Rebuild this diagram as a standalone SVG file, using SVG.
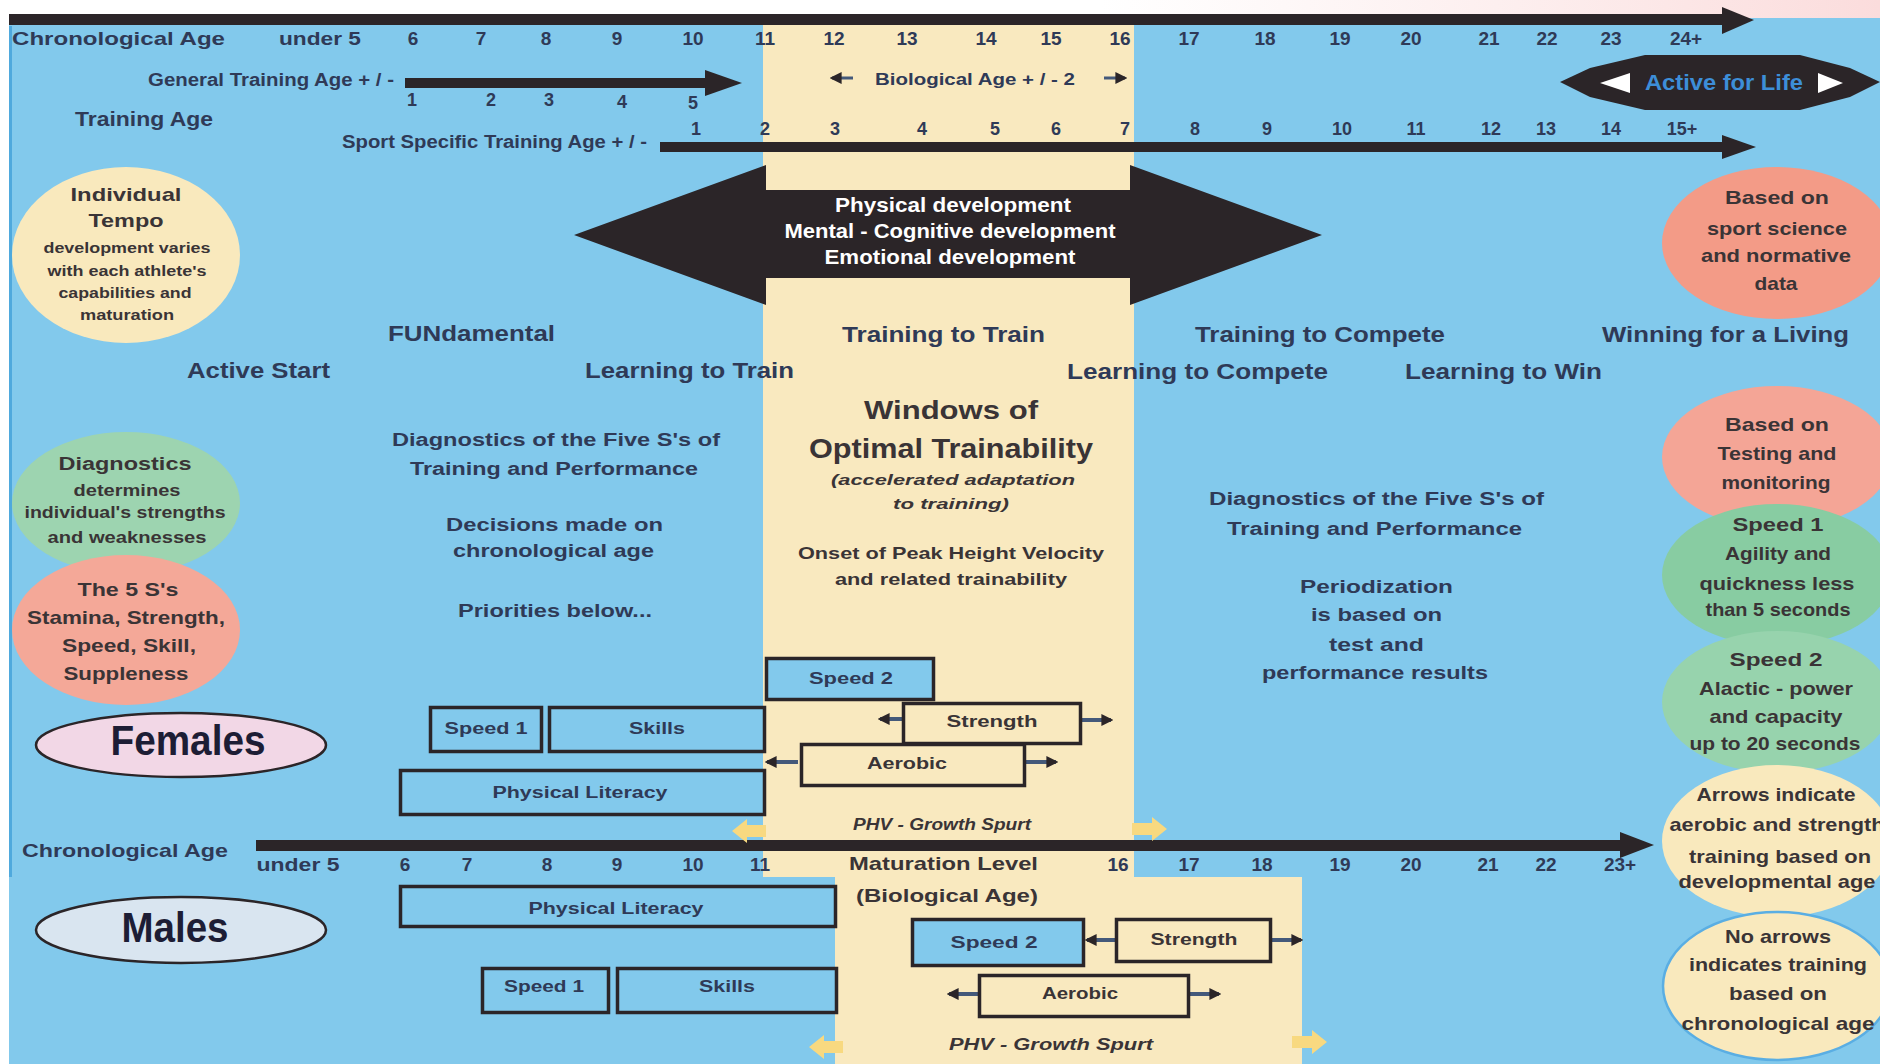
<svg xmlns="http://www.w3.org/2000/svg" width="1880" height="1064" viewBox="0 0 1880 1064">
<defs>
<style>
.t{font-family:"Liberation Sans",Arial,sans-serif;font-weight:bold;fill:#2f3a57}
.c{text-anchor:middle}
.w{fill:#ffffff}
.d{fill:#3a3436}
.i{font-style:italic}
.box{stroke:#2b2528;stroke-width:3.5}
.bl{fill:#82c9ec}
.ye{fill:#f9e9bf}
.sa{stroke:#44597a;stroke-width:4;fill:none;marker-end:url(#ah)}
.ya{fill:#f8d980}
.dk{fill:#2b2528}
</style>
<marker id="ah" viewBox="0 0 10 10" refX="8" refY="5" markerWidth="12" markerHeight="12" markerUnits="userSpaceOnUse" orient="auto"><path d="M0,0 L10,5 L0,10 z" fill="#2b2528"/></marker>
<linearGradient id="pk" x1="0" y1="0" x2="1" y2="0"><stop offset="0" stop-color="#fbe3e3" stop-opacity="0"/><stop offset="1" stop-color="#fbdcdc"/></linearGradient>
</defs>
<rect x="0" y="0" width="1880" height="1064" fill="#ffffff"/>
<rect x="1100" y="0" width="780" height="18" fill="url(#pk)"/>
<rect x="9" y="18" width="1871" height="1046" class="bl"/>
<rect x="9" y="26" width="3" height="851" fill="#4fa9dd"/>
<rect x="763" y="25" width="371" height="852" class="ye"/>
<rect x="835" y="877" width="467" height="187" class="ye"/>

<g id="connectors">
<path d="M9,14 H1724 V25 H9 Z" class="dk"/>
<path d="M1722,7 L1754,20 L1722,34 Z" class="dk"/>
<path d="M405,78 H708 V88 H405 Z" class="dk"/>
<path d="M705,70 L742,83 L705,96 Z" class="dk"/>
<path d="M660,142 H1724 V152 H660 Z" class="dk"/>
<path d="M1722,135 L1756,147 L1722,159 Z" class="dk"/>
<path d="M256,840 H1622 V851 H256 Z" class="dk"/>
<path d="M1620,832 L1654,845 L1620,858 Z" class="dk"/>
<line x1="853" y1="78" x2="832" y2="78" class="sa" style="stroke-width:3"/>
<line x1="1104" y1="78" x2="1125" y2="78" class="sa" style="stroke-width:3"/>
<line x1="912" y1="719" x2="880" y2="719" class="sa"/>
<line x1="1082" y1="720" x2="1111" y2="720" class="sa"/>
<line x1="798" y1="762" x2="767" y2="762" class="sa"/>
<line x1="1026" y1="762" x2="1056" y2="762" class="sa"/>
<line x1="1116" y1="940" x2="1087" y2="940" class="sa"/>
<line x1="1272" y1="940" x2="1301" y2="940" class="sa"/>
<line x1="979" y1="994" x2="949" y2="994" class="sa"/>
<line x1="1190" y1="994" x2="1219" y2="994" class="sa"/>
<path d="M732,831 L747,819 L747,825 L766,825 L766,837 L747,837 L747,843 Z" class="ya"/>
<path d="M1167,829 L1152,817 L1152,823 L1132,823 L1132,835 L1152,835 L1152,841 Z" class="ya"/>
<path d="M809,1047 L824,1035 L824,1041 L843,1041 L843,1053 L824,1053 L824,1059 Z" class="ya"/>
<path d="M1327,1042 L1312,1030 L1312,1036 L1292,1036 L1292,1048 L1312,1048 L1312,1054 Z" class="ya"/>
</g>

<g id="axis-top">
<text class="t" x="12" y="45" font-size="19" textLength="213" lengthAdjust="spacingAndGlyphs">Chronological Age</text>
<g class="t c" font-size="19">
<text x="320" y="45" textLength="82" lengthAdjust="spacingAndGlyphs">under 5</text>
<text x="413" y="45">6</text><text x="481" y="45">7</text><text x="546" y="45">8</text><text x="617" y="45">9</text><text x="693" y="45">10</text><text x="765" y="45">11</text><text x="834" y="45">12</text><text x="907" y="45">13</text><text x="986" y="45">14</text><text x="1051" y="45">15</text><text x="1120" y="45">16</text><text x="1189" y="45">17</text><text x="1265" y="45">18</text><text x="1340" y="45">19</text><text x="1411" y="45">20</text><text x="1489" y="45">21</text><text x="1547" y="45">22</text><text x="1611" y="45">23</text><text x="1686" y="45">24+</text>
</g>
<text class="t" x="148" y="86" font-size="18" textLength="246" lengthAdjust="spacingAndGlyphs">General Training Age + / -</text>
<g class="t c" font-size="18">
<text x="412" y="106">1</text><text x="491" y="106">2</text><text x="549" y="106">3</text><text x="622" y="108">4</text><text x="693" y="109">5</text>
</g>
<text class="t" x="75" y="126" font-size="20" textLength="138" lengthAdjust="spacingAndGlyphs">Training Age</text>
<text class="t" x="875" y="85" font-size="17" textLength="200" lengthAdjust="spacingAndGlyphs">Biological Age + / - 2</text>
<text class="t" x="342" y="148" font-size="18" textLength="305" lengthAdjust="spacingAndGlyphs">Sport Specific Training Age + / -</text>
<g class="t c" font-size="18">
<text x="696" y="135">1</text><text x="765" y="135">2</text><text x="835" y="135">3</text><text x="922" y="135">4</text><text x="995" y="135">5</text><text x="1056" y="135">6</text><text x="1125" y="135">7</text><text x="1195" y="135">8</text><text x="1267" y="135">9</text><text x="1342" y="135">10</text><text x="1416" y="135">11</text><text x="1491" y="135">12</text><text x="1546" y="135">13</text><text x="1611" y="135">14</text><text x="1682" y="135">15+</text>
</g>
</g>

<g id="active-for-life">
<path d="M1560,82 L1590,68 L1645,55 L1800,55 L1850,68 L1880,82 L1850,97 L1800,110 L1645,110 L1590,97 Z" class="dk"/>
<path d="M1600,83 L1630,73 L1630,93 Z" fill="#ffffff"/>
<path d="M1843,83 L1818,73 L1818,93 Z" fill="#ffffff"/>
<text class="t c" x="1724" y="90" font-size="22" fill="#3d8ed8" style="fill:#3d8ed8" textLength="158" lengthAdjust="spacingAndGlyphs">Active for Life</text>
</g>

<g id="development-arrow">
<path d="M574,235 L766,165 L766,190 L1130,190 L1130,165 L1322,235 L1130,305 L1130,278 L766,278 L766,305 Z" class="dk"/>
<g class="t c w" font-size="21">
<text x="953" y="212" textLength="236" lengthAdjust="spacingAndGlyphs">Physical development</text>
<text x="950" y="238" textLength="331" lengthAdjust="spacingAndGlyphs">Mental - Cognitive development</text>
<text x="950" y="264" textLength="251" lengthAdjust="spacingAndGlyphs">Emotional development</text>
</g>
</g>

<g id="stages" class="t" font-size="22">
<text x="388" y="341" textLength="167" lengthAdjust="spacingAndGlyphs">FUNdamental</text>
<text x="842" y="342" textLength="203" lengthAdjust="spacingAndGlyphs">Training to Train</text>
<text x="1195" y="342" textLength="250" lengthAdjust="spacingAndGlyphs">Training to Compete</text>
<text x="1602" y="342" textLength="247" lengthAdjust="spacingAndGlyphs">Winning for a Living</text>
<text x="187" y="378" textLength="143" lengthAdjust="spacingAndGlyphs">Active Start</text>
<text x="585" y="378" textLength="209" lengthAdjust="spacingAndGlyphs">Learning to Train</text>
<text x="1067" y="379" textLength="261" lengthAdjust="spacingAndGlyphs">Learning to Compete</text>
<text x="1405" y="379" textLength="197" lengthAdjust="spacingAndGlyphs">Learning to Win</text>
</g>

<g id="notes-left" class="t" font-size="18">
<text x="392" y="446" textLength="328" lengthAdjust="spacingAndGlyphs">Diagnostics of the Five S's of</text>
<text x="410" y="475" textLength="288" lengthAdjust="spacingAndGlyphs">Training and Performance</text>
<text x="446" y="531" textLength="217" lengthAdjust="spacingAndGlyphs">Decisions made on</text>
<text x="453" y="557" textLength="201" lengthAdjust="spacingAndGlyphs">chronological age</text>
<text x="458" y="617" textLength="194" lengthAdjust="spacingAndGlyphs">Priorities below...</text>
</g>

<g id="windows" class="t d">
<text x="864" y="419" font-size="26" textLength="174" lengthAdjust="spacingAndGlyphs">Windows of</text>
<text x="809" y="458" font-size="27" textLength="284" lengthAdjust="spacingAndGlyphs">Optimal Trainability</text>
<text class="i" x="831" y="485" font-size="15" textLength="244" lengthAdjust="spacingAndGlyphs">(accelerated adaptation</text>
<text class="i" x="893" y="509" font-size="15" textLength="116" lengthAdjust="spacingAndGlyphs">to training)</text>
<text x="798" y="559" font-size="17" textLength="306" lengthAdjust="spacingAndGlyphs">Onset of Peak Height Velocity</text>
<text x="835" y="585" font-size="17" textLength="232" lengthAdjust="spacingAndGlyphs">and related trainability</text>
</g>

<g id="notes-right" class="t" font-size="18">
<text x="1209" y="505" textLength="335" lengthAdjust="spacingAndGlyphs">Diagnostics of the Five S's of</text>
<text x="1227" y="535" textLength="295" lengthAdjust="spacingAndGlyphs">Training and Performance</text>
<text x="1300" y="593" textLength="153" lengthAdjust="spacingAndGlyphs">Periodization</text>
<text x="1311" y="621" textLength="131" lengthAdjust="spacingAndGlyphs">is based on</text>
<text x="1329" y="651" textLength="95" lengthAdjust="spacingAndGlyphs">test and</text>
<text x="1262" y="679" textLength="226" lengthAdjust="spacingAndGlyphs">performance results</text>
</g>

<g id="circle-tempo">
<ellipse cx="126" cy="255" rx="114" ry="88" fill="#f9e9bd"/>
<g class="t c d">
<text x="126" y="201" font-size="19" textLength="111" lengthAdjust="spacingAndGlyphs">Individual</text>
<text x="126" y="227" font-size="19" textLength="75" lengthAdjust="spacingAndGlyphs">Tempo</text>
<text x="127" y="253" font-size="14" textLength="167" lengthAdjust="spacingAndGlyphs">development varies</text>
<text x="127" y="276" font-size="14" textLength="159" lengthAdjust="spacingAndGlyphs">with each athlete's</text>
<text x="125" y="298" font-size="14" textLength="133" lengthAdjust="spacingAndGlyphs">capabilities and</text>
<text x="127" y="320" font-size="14" textLength="94" lengthAdjust="spacingAndGlyphs">maturation</text>
</g>
</g>
<g id="circle-diagnostics">
<ellipse cx="126" cy="503" rx="114" ry="71" fill="#9dd4b0"/>
<g class="t c d">
<text x="125" y="470" font-size="18" textLength="133" lengthAdjust="spacingAndGlyphs">Diagnostics</text>
<text x="127" y="496" font-size="16" textLength="107" lengthAdjust="spacingAndGlyphs">determines</text>
<text x="125" y="518" font-size="16" textLength="201" lengthAdjust="spacingAndGlyphs">individual's strengths</text>
<text x="127" y="543" font-size="16" textLength="159" lengthAdjust="spacingAndGlyphs">and weaknesses</text>
</g>
</g>
<g id="circle-5s">
<ellipse cx="126" cy="630" rx="114" ry="75" fill="#f4a898"/>
<g class="t c d">
<text x="128" y="596" font-size="19" textLength="101" lengthAdjust="spacingAndGlyphs">The 5 S's</text>
<text x="126" y="624" font-size="19" textLength="198" lengthAdjust="spacingAndGlyphs">Stamina, Strength,</text>
<text x="129" y="652" font-size="19" textLength="134" lengthAdjust="spacingAndGlyphs">Speed, Skill,</text>
<text x="126" y="680" font-size="19" textLength="125" lengthAdjust="spacingAndGlyphs">Suppleness</text>
</g>
</g>

<g id="females">
<ellipse cx="181" cy="745" rx="145" ry="32" fill="#f2d7e6" stroke="#2b2528" stroke-width="2.5"/>
<text class="t c" x="188" y="755" font-size="42" style="fill:#1d1d35" textLength="155" lengthAdjust="spacingAndGlyphs">Females</text>
</g>
<g id="males">
<ellipse cx="181" cy="930" rx="145" ry="33" fill="#d9e5f0" stroke="#2b2528" stroke-width="2.5"/>
<text class="t c" x="175" y="942" font-size="42" style="fill:#1d1d35" textLength="107" lengthAdjust="spacingAndGlyphs">Males</text>
</g>

<g id="circle-science">
<ellipse cx="1777" cy="243" rx="115" ry="76" fill="#f39b87"/>
<g class="t c d" font-size="19">
<text x="1777" y="204" textLength="104" lengthAdjust="spacingAndGlyphs">Based on</text>
<text x="1777" y="235" textLength="140" lengthAdjust="spacingAndGlyphs">sport science</text>
<text x="1776" y="262" textLength="150" lengthAdjust="spacingAndGlyphs">and normative</text>
<text x="1776" y="290" textLength="43" lengthAdjust="spacingAndGlyphs">data</text>
</g>
</g>
<g id="circle-testing">
<ellipse cx="1777" cy="457" rx="115" ry="71" fill="#f4a596"/>
<g class="t c d" font-size="19">
<text x="1777" y="431" textLength="104" lengthAdjust="spacingAndGlyphs">Based on</text>
<text x="1777" y="460" textLength="119" lengthAdjust="spacingAndGlyphs">Testing and</text>
<text x="1776" y="489" textLength="109" lengthAdjust="spacingAndGlyphs">monitoring</text>
</g>
</g>
<g id="circle-speed1">
<ellipse cx="1777" cy="575" rx="115" ry="71" fill="#88cca2"/>
<g class="t c d" font-size="19">
<text x="1778" y="531" textLength="91" lengthAdjust="spacingAndGlyphs">Speed 1</text>
<text x="1778" y="560" textLength="106" lengthAdjust="spacingAndGlyphs">Agility and</text>
<text x="1777" y="590" textLength="155" lengthAdjust="spacingAndGlyphs">quickness less</text>
<text x="1778" y="616" textLength="145" lengthAdjust="spacingAndGlyphs">than 5 seconds</text>
</g>
</g>
<g id="circle-speed2">
<ellipse cx="1777" cy="702" rx="115" ry="71" fill="#97d3ad"/>
<g class="t c d" font-size="19">
<text x="1776" y="666" textLength="93" lengthAdjust="spacingAndGlyphs">Speed 2</text>
<text x="1776" y="695" textLength="154" lengthAdjust="spacingAndGlyphs">Alactic - power</text>
<text x="1776" y="723" textLength="133" lengthAdjust="spacingAndGlyphs">and capacity</text>
<text x="1775" y="750" textLength="171" lengthAdjust="spacingAndGlyphs">up to 20 seconds</text>
</g>
</g>
<g id="circle-arrows">
<ellipse cx="1777" cy="841" rx="115" ry="76" fill="#f9e9bd"/>
<g class="t c d" font-size="19">
<text x="1776" y="801" textLength="159" lengthAdjust="spacingAndGlyphs">Arrows indicate</text>
<text x="1777" y="831" textLength="215" lengthAdjust="spacingAndGlyphs">aerobic and strength</text>
<text x="1780" y="863" textLength="182" lengthAdjust="spacingAndGlyphs">training based on</text>
<text x="1777" y="888" textLength="197" lengthAdjust="spacingAndGlyphs">developmental age</text>
</g>
</g>
<g id="circle-noarrows">
<ellipse cx="1777" cy="986" rx="114" ry="74" fill="#f9e9bd" stroke="#5aaee3" stroke-width="2.5"/>
<g class="t c d" font-size="19">
<text x="1778" y="943" textLength="106" lengthAdjust="spacingAndGlyphs">No arrows</text>
<text x="1778" y="971" textLength="178" lengthAdjust="spacingAndGlyphs">indicates training</text>
<text x="1778" y="1000" textLength="98" lengthAdjust="spacingAndGlyphs">based on</text>
<text x="1778" y="1030" textLength="193" lengthAdjust="spacingAndGlyphs">chronological age</text>
</g>
</g>

<g id="female-boxes">
<rect x="430.5" y="707.5" width="111" height="44" class="box bl"/>
<rect x="549.5" y="707.5" width="215" height="44" class="box bl"/>
<rect x="400.5" y="770.5" width="364" height="44" class="box bl"/>
<rect x="766.5" y="658.5" width="167" height="41" class="box bl"/>
<rect x="903.5" y="703.5" width="177" height="40" class="box ye"/>
<rect x="801.5" y="744.5" width="223" height="41" class="box ye"/>
<g class="t c" font-size="16">
<text x="486" y="734" textLength="83" lengthAdjust="spacingAndGlyphs">Speed 1</text>
<text x="657" y="734" textLength="56" lengthAdjust="spacingAndGlyphs">Skills</text>
<text x="580" y="798" textLength="175" lengthAdjust="spacingAndGlyphs">Physical Literacy</text>
<text x="851" y="684" textLength="84" lengthAdjust="spacingAndGlyphs">Speed 2</text>
<text x="992" y="727" textLength="91" lengthAdjust="spacingAndGlyphs" class="d">Strength</text>
<text x="907" y="769" textLength="80" lengthAdjust="spacingAndGlyphs" class="d">Aerobic</text>
<text x="942" y="830" class="i d" textLength="178" lengthAdjust="spacingAndGlyphs">PHV - Growth Spurt</text>
</g>
</g>

<g id="axis-bottom">
<text class="t" x="22" y="857" font-size="19" textLength="206" lengthAdjust="spacingAndGlyphs">Chronological Age</text>
<g class="t c" font-size="19">
<text x="298" y="871" textLength="83" lengthAdjust="spacingAndGlyphs">under 5</text>
<text x="405" y="871">6</text><text x="467" y="871">7</text><text x="547" y="871">8</text><text x="617" y="871">9</text><text x="693" y="871">10</text><text x="760" y="871">11</text><text x="1118" y="871">16</text><text x="1189" y="871">17</text><text x="1262" y="871">18</text><text x="1340" y="871">19</text><text x="1411" y="871">20</text><text x="1488" y="871">21</text><text x="1546" y="871">22</text><text x="1620" y="871">23+</text>
</g>
<text class="t d" x="849" y="870" font-size="19" textLength="189" lengthAdjust="spacingAndGlyphs">Maturation Level</text>
<text class="t d" x="856" y="902" font-size="19" textLength="182" lengthAdjust="spacingAndGlyphs">(Biological Age)</text>
</g>

<g id="male-boxes">
<rect x="400.5" y="886.5" width="435" height="40" class="box bl"/>
<rect x="482.5" y="968.5" width="126" height="44" class="box bl"/>
<rect x="617.5" y="968.5" width="219" height="44" class="box bl"/>
<rect x="912.5" y="919.5" width="171" height="46" class="box bl"/>
<rect x="1116.5" y="919.5" width="154" height="42" class="box ye"/>
<rect x="979.5" y="975.5" width="209" height="41" class="box ye"/>
<g class="t c" font-size="16">
<text x="616" y="914" textLength="175" lengthAdjust="spacingAndGlyphs">Physical Literacy</text>
<text x="544" y="992" textLength="80" lengthAdjust="spacingAndGlyphs">Speed 1</text>
<text x="727" y="992" textLength="56" lengthAdjust="spacingAndGlyphs">Skills</text>
<text x="994" y="948" textLength="87" lengthAdjust="spacingAndGlyphs">Speed 2</text>
<text x="1194" y="945" textLength="87" lengthAdjust="spacingAndGlyphs" class="d">Strength</text>
<text x="1080" y="999" textLength="76" lengthAdjust="spacingAndGlyphs" class="d">Aerobic</text>
<text x="1051" y="1050" class="i d" textLength="204" lengthAdjust="spacingAndGlyphs">PHV - Growth Spurt</text>
</g>
</g>
</svg>
